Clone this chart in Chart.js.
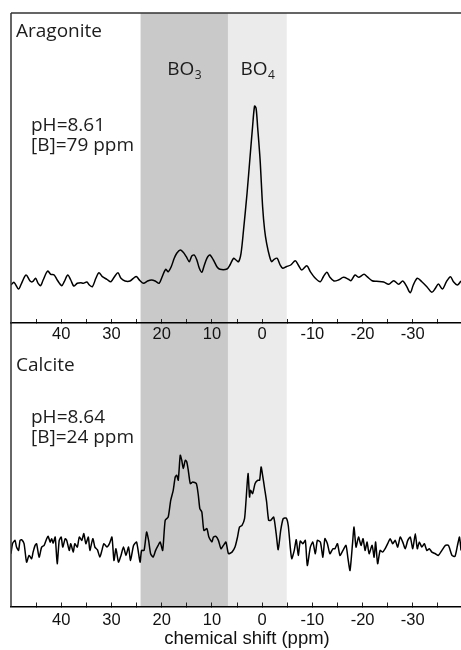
<!DOCTYPE html>
<html lang="en">
  <head>
    <meta charset="UTF-8" />
    <title>11B NMR spectra</title>
    <style>
      body {
        margin: 0;
        padding: 0;
        background: #fff;
      }
      #wrap {
        position: relative;
        width: 461px;
        height: 650px;
      }
      #wrap canvas {
        position: absolute;
        left: 0;
        top: 0;
      }
      #topChart {
        z-index: 2;
      }
      #bottomChart {
        z-index: 1;
      }
    </style>
  </head>
  <body>
    <div id="wrap">
      <canvas id="bottomChart" width="461" height="650"></canvas>
      <canvas id="topChart" width="461" height="345"></canvas>
    </div>
    <script src="https://cdn.jsdelivr.net/npm/chart.js"></script>
    <script>
      // chemical shift range (ppm), axis is reversed
      const xMin = -39.6;
      const xMax = 50;
      const tickValues = [45, 40, 35, 30, 25, 20, 15, 10, 5, 0, -5, -10, -15, -20, -25, -30, -35];
      const labelledTicks = [40, 30, 20, 10, 0, -10, -20, -30];

      // shaded regions: [from, to] in ppm
      const bo3Band = [24.2, 6.8];
      const bo4Band = [6.8, -4.9];

      // Aragonite spectrum
      const aragonitePpm = [
        50.0, 49.4, 48.5, 47.9, 47.0, 46.2, 45.7, 45.1, 44.6, 44.1, 43.6, 42.7, 42.1, 41.4, 40.8,
        39.9, 39.4, 38.7, 38.1, 37.5, 36.8, 36.1, 35.6, 34.9, 34.4, 33.8, 33.1, 32.5, 31.8, 30.9,
        30.1, 29.4, 28.7, 28.1, 27.3, 26.3, 25.4, 25.0, 24.3, 23.6, 22.8, 22.0, 21.3, 20.5, 19.9,
        19.2, 18.7, 18.1, 17.5, 17.0, 16.3, 15.7, 15.1, 14.5, 14.0, 13.5, 13.0, 12.5, 12.0, 11.6,
        11.0, 10.4, 9.7, 9.0, 8.4, 7.0, 6.4, 5.7, 5.2, 4.7, 4.2, 3.7, 3.0, 2.4, 1.9,
        1.5, 1.2, 0.9, 0.4, -0.1, -0.5, -0.9, -1.5, -1.9, -2.4, -3.0, -3.6, -4.1, -4.8, -5.7,
        -6.6, -7.2, -7.9, -8.9, -9.6, -10.6, -11.6, -12.2, -12.9, -13.5, -14.3, -15.2, -16.2, -17.2, -17.7,
        -18.5, -19.2, -20.3, -20.9, -21.9, -22.8, -24.2, -25.2, -26.2, -27.2, -28.0, -28.8, -29.5, -30.1, -30.9,
        -31.8, -32.8, -33.8, -34.5, -35.1, -35.9, -36.7, -37.5, -38.1, -38.9, -39.6
      ];
      const aragoniteInt = [
        -5, -2.3, -9, -3.3, 5, -1, -1.7, 1.7, -3.3, -5.7, 0, 9, 5.7, 5, 0,
        -5.7, -1.7, 5, 0, -6, -3.3, -2.7, -3.3, -2, -5, -6.7, 1.7, 7.3, 3.3, 0.7,
        -1.7, 3.3, 7.3, 1.7, -1, -1, 2.7, 3.3, -0.7, -3.3, -1, 0, -1, -3.3, 3.3,
        10.7, 8.3, 13.3, 21.7, 26.7, 30, 27.7, 23.3, 18.3, 24, 25, 20, 11.7, 7.7, 13.3,
        21.7, 25, 20, 13.3, 10.7, 11, 15, 21.7, 20, 18.3, 26.7, 50, 86.7, 123.3, 153.3,
        174, 171.7, 153.3, 120, 73.3, 50, 36.7, 23.3, 18.3, 20.7, 21.7, 15, 11.7, 13.3, 15,
        19.3, 15, 10, 14.3, 8.3, 1.7, -1.7, 3.3, 7.7, 2.7, -1, 0, 2.7, 0.7, -0.7,
        5, 2.7, 5.7, 3.3, -0.7, -1.3, -2, -4.3, -0.7, -4.3, -1, -6.7, -12.7, -5, 1.7,
        -1.7, -6.7, -12.3, -8.3, -4, -9, -1.7, 3.3, -1.7, -5, -1
      ];

      // Calcite spectrum
      const calcitePpm = [
        50.0, 49.7, 49.2, 48.9, 48.5, 48.2, 47.9, 47.4, 46.9, 46.4, 45.9, 45.6, 45.2, 44.9, 44.4,
        43.9, 43.4, 42.9, 42.6, 42.2, 41.9, 41.6, 41.2, 40.8, 40.4, 40.0, 39.7, 39.2, 38.9, 38.4,
        38.1, 37.6, 37.3, 36.8, 36.4, 35.9, 35.5, 35.1, 34.6, 34.3, 33.7, 33.3, 32.8, 32.3, 31.9,
        31.5, 30.9, 30.4, 29.9, 29.5, 29.1, 28.6, 28.1, 27.6, 27.1, 26.6, 26.2, 25.6, 25.0, 24.3,
        24.0, 23.5, 23.0, 22.6, 22.2, 21.7, 21.2, 20.7, 20.3, 19.8, 19.3, 18.7, 18.2, 17.7, 17.3,
        17.0, 16.7, 16.3, 16.0, 15.7, 15.3, 15.0, 14.7, 14.3, 13.8, 13.1, 12.7, 12.4, 12.0, 11.6,
        11.0, 10.6, 10.0, 9.7, 9.2, 8.7, 8.2, 7.7, 7.2, 6.7, 6.0, 5.4, 4.9, 4.5, 4.0,
        3.5, 3.2, 2.8, 2.5, 2.3, 1.9, 1.4, 0.9, 0.5, 0.2, -0.1, -0.5, -0.9, -1.3, -1.7,
        -2.3, -2.8, -3.2, -3.7, -4.2, -4.8, -5.2, -5.6, -5.9, -6.4, -6.8, -7.2, -7.6, -8.1, -8.6,
        -9.0, -9.6, -10.1, -10.6, -11.0, -11.6, -12.1, -12.5, -13.0, -13.5, -14.1, -14.5, -15.0, -15.5, -16.1,
        -16.7, -17.1, -17.5, -18.0, -18.3, -18.7, -19.2, -19.7, -20.1, -20.5, -20.9, -21.3, -21.9, -22.3, -22.6,
        -23.0, -23.5, -24.0, -24.5, -25.0, -25.5, -26.0, -26.5, -27.0, -27.5, -28.0, -28.5, -29.0, -29.5, -30.0,
        -30.5, -30.9, -31.3, -31.8, -32.3, -32.8, -33.3, -33.8, -34.5, -35.1, -35.8, -36.5, -37.1, -37.8, -38.4,
        -38.9, -39.3, -39.6
      ];
      const calciteInt = [
        -3.3, 6.7, 10, 3.3, 0, 10, 10.7, 6.7, -11.7, -5, -8.3, -1.7, 5, 6.7, -6.7,
        3.3, 5, 11.7, 14, 8.3, 11.7, 7.3, 13.3, -13.3, 10, 13.3, 3.3, 11.7, 10, 0,
        6.7, -1.7, 6.7, 3.3, 13.3, 10, 16.7, 6.7, 13.3, 0, 11.7, 3.3, 0.7, -6.7, 0,
        6.7, 3.3, 6.7, 13.3, -10, 1.7, -11.7, -5, 3.3, -5, 3.3, -10, 5, 8.3, -11.7,
        0, 0, 18.3, 10, -3.3, -6.7, 0, 5, 8.3, 0, 30, 33.3, 50, 60, 73.3,
        75, 70, 95, 90, 81.7, 90, 88.3, 80, 66.7, 68.3, 66.7, 55, 41.7, 38.3, 20,
        21.7, 13.3, 8.3, 13.3, 14, 10, 1.7, 5, 8.3, -3.3, -1.7, 3.3, 13.3, 23.3, 25,
        31.7, 50, 76.7, 53.3, 60, 56.7, 66.7, 70, 70, 83.3, 75, 61.7, 48.3, 30, 30,
        33.3, 16.7, 0.7, 20, 31.7, 32.3, 25, 3.3, -8.3, 0, 10.7, -5, 9.3, 6.7, 10,
        -15, 3.3, 8.3, -3.3, 10, 8.3, -6.7, 11.7, 6.7, -3.3, 1.7, 1.7, 6.7, -5, 0,
        5, -8.3, -20, 6.7, 23.3, 3.3, 13.3, 5, 11.7, 0, 8.3, -3.3, 5, -6.7, 8.3,
        -13.3, 0, -1.7, 1.7, 6.7, 11.7, 6.7, 10, 3.3, 13.3, 8.3, 1.7, 10, 13.3, 1.7,
        16.7, 1.7, 8.3, 3.3, 6.7, 0, 1.7, -1.7, -3.3, -5, 0, 5, 5, -5, -6,
        5, 13.3, 0
      ];

      const textFont = "400 19px 'Open Sans', sans-serif";
      const subFont = "400 12px 'Open Sans', sans-serif";
      const textColor = "#1c1c1c";

      // grey bands behind the spectra
      const bandsPlugin = {
        id: "bands",
        beforeDraw(chart) {
          const { ctx, chartArea } = chart;
          const x = chart.scales.x;
          ctx.save();
          [
            [bo3Band, "#c9c9c9"],
            [bo4Band, "#ebebeb"],
          ].forEach(([band, col]) => {
            const x1 = x.getPixelForValue(band[0]);
            const x2 = x.getPixelForValue(band[1]);
            ctx.fillStyle = col;
            ctx.fillRect(x1, chartArea.top, x2 - x1, chartArea.bottom - chartArea.top);
          });
          ctx.restore();
        },
      };

      // left frame line (and top one for the upper panel) plus text
      const framePlugin = {
        id: "frame",
        afterDraw(chart, args, opts) {
          const { ctx, chartArea } = chart;
          ctx.save();
          ctx.strokeStyle = "#333";
          ctx.lineWidth = 1.5;
          ctx.beginPath();
          ctx.moveTo(chartArea.left, chartArea.top);
          ctx.lineTo(chartArea.left, chartArea.bottom);
          if (opts.topLine) {
            ctx.moveTo(chartArea.left, chartArea.top);
            ctx.lineTo(chart.width, chartArea.top);
          }
          ctx.stroke();

          ctx.fillStyle = textColor;
          ctx.font = textFont;
          ctx.textBaseline = "alphabetic";
          (opts.texts || []).forEach((t) => ctx.fillText(t[0], t[1], t[2]));

          if (opts.bandLabels) {
            const x = chart.scales.x;
            [
              ["BO", "3", bo3Band],
              ["BO", "4", bo4Band],
            ].forEach(([main, sub, band]) => {
              ctx.font = textFont;
              const w1 = ctx.measureText(main).width;
              ctx.font = subFont;
              const w2 = ctx.measureText(sub).width;
              const cx = (x.getPixelForValue(band[0]) + x.getPixelForValue(band[1])) / 2;
              const left = cx - (w1 + w2) / 2;
              ctx.font = textFont;
              ctx.fillText(main, left, opts.bandLabels);
              ctx.font = subFont;
              ctx.fillText(sub, left + w1 + 0.5, opts.bandLabels + 4);
            });
          }
          if (opts.axisTitle) {
            ctx.font = "18.5px 'Liberation Sans', Arial, sans-serif";
            ctx.fillStyle = "#111";
            ctx.textAlign = "center";
            ctx.fillText(opts.axisTitle[0], opts.axisTitle[1], opts.axisTitle[2]);
          }
          ctx.restore();
        },
      };

      function points(xs, ys) {
        return xs.map((v, i) => ({ x: v, y: ys[i] }));
      }

      function makeChart(id, xs, ys, yMin, yMax, padTop, axisHeight, labelPad, tension, frameOpts) {
        return new Chart(document.getElementById(id), {
          type: "line",
          data: {
            datasets: [
              {
                data: points(xs, ys),
                borderColor: "#000",
                borderWidth: 1.5,
                pointRadius: 0,
                tension: tension,
                fill: false,
              },
            ],
          },
          options: {
            responsive: false,
            animation: false,
            layout: { padding: { left: 11, top: padTop, right: 0, bottom: 0 } },
            plugins: {
              legend: { display: false },
              tooltip: { enabled: false },
              frame: frameOpts,
            },
            scales: {
              x: {
                type: "linear",
                reverse: true,
                min: xMin,
                max: xMax,
                afterBuildTicks: (axis) => {
                  axis.ticks = tickValues.map((v) => ({ value: v }));
                },
                afterFit: (axis) => {
                  axis.height = axisHeight;
                },
                border: { display: true, color: "#000", width: 1.5 },
                grid: {
                  drawOnChartArea: false,
                  drawTicks: true,
                  tickLength: -4,
                  color: "#222",
                  lineWidth: 1,
                },
                ticks: {
                  autoSkip: false,
                  maxRotation: 0,
                  padding: labelPad,
                  color: "#111",
                  font: { family: "'Liberation Sans', Arial, sans-serif", size: 16.5 },
                  callback: (v) => (labelledTicks.includes(v) ? String(v) : ""),
                },
              },
              y: { display: false, min: yMin, max: yMax },
            },
          },
          plugins: [bandsPlugin, framePlugin],
        });
      }

      makeChart("topChart", aragonitePpm, aragoniteInt, -43, 267, 13, 22, 6, 0.3, {
        topLine: true,
        texts: [
          ["Aragonite", 16, 37],
          ["pH=8.61", 31, 131],
          ["[B]=79 ppm", 31, 151],
        ],
        bandLabels: 75,
      });

      makeChart("bottomChart", calcitePpm, calciteInt, -56, 227, 323, 43.5, 8, 0.2, {
        topLine: false,
        texts: [
          ["Calcite", 16, 371],
          ["pH=8.64", 31, 423],
          ["[B]=24 ppm", 31, 443],
        ],
        axisTitle: ["chemical shift (ppm)", 247, 644],
      });
    </script>
  </body>
</html>
